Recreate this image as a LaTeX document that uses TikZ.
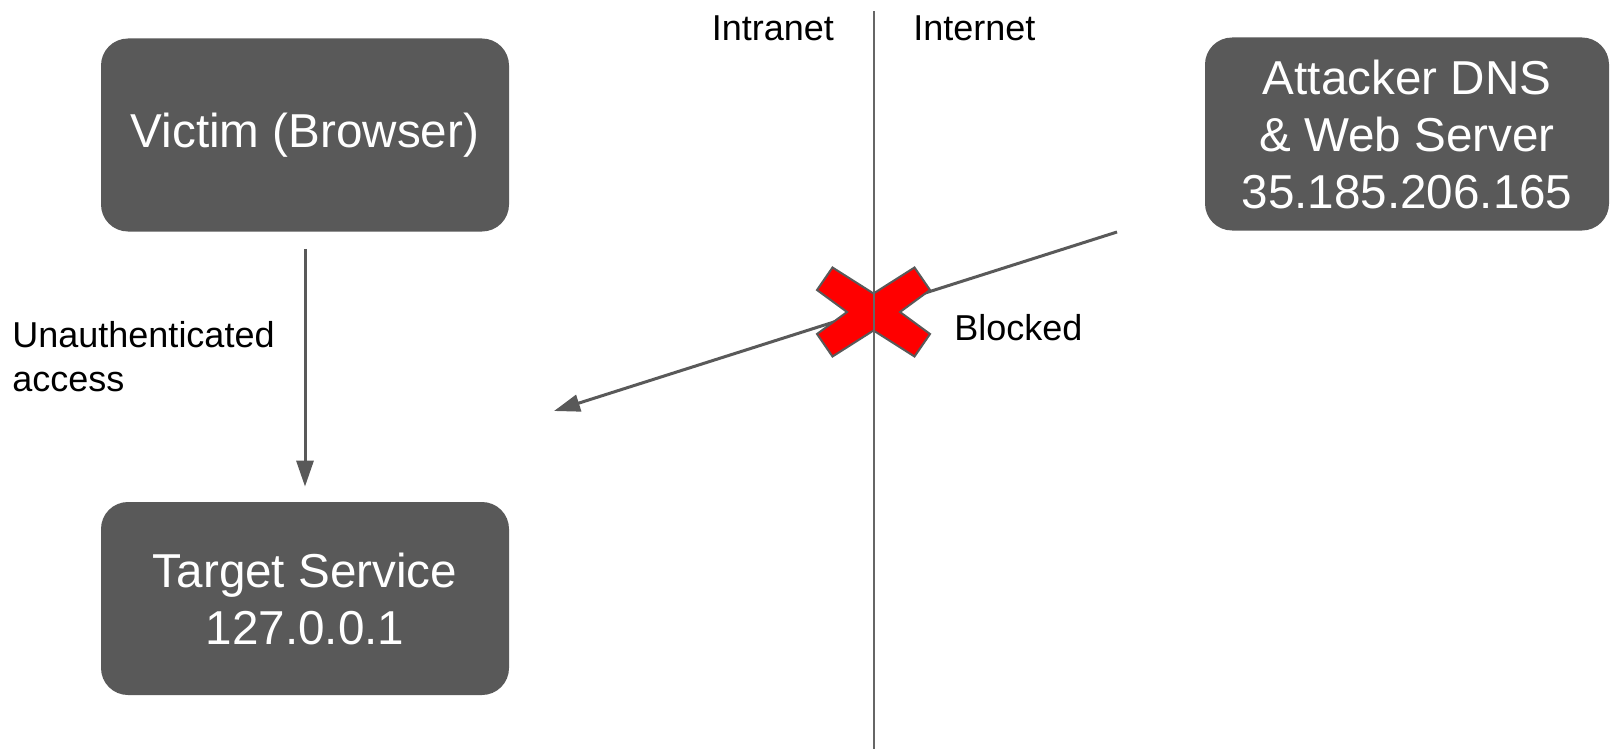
\documentclass[tikz,border=0pt]{standalone}
\usepackage{fontspec}
\setmainfont{Liberation Sans}
\usetikzlibrary{arrows.meta}
\definecolor{boxgray}{HTML}{595959}
\definecolor{linegray}{HTML}{666666}
\definecolor{xred}{HTML}{FF0000}
\begin{document}
\begin{tikzpicture}[x=0.5pt,y=-0.5pt,
  server/.style={fill=boxgray, rounded corners=13.5pt, text=white, align=center,
    font=\fontsize{23.8}{28.5}\selectfont, inner sep=0pt,
    minimum width=204pt, minimum height=96.5pt},
  label/.style={font=\fontsize{18}{22}\selectfont, inner sep=0pt, text=black},
  flow/.style={draw=boxgray, line width=1.5pt, -{Triangle[length=13pt,width=8.5pt]}},
  divider/.style={draw=linegray, line width=1pt}]
\useasboundingbox (0,0) rectangle (1610,749);
\fill[white] (0,0) rectangle (1610,749);

% servers
\node[server] (victim) at (305,135) {Victim (Browser)};
\node[server] (target) at (305,598.5) {Target Service\\127.0.0.1};
\node[server, minimum width=202pt] (attacker) at (1407,134) {Attacker DNS\\\& Web Server\\35.185.206.165};

% labels
\node[label, anchor=base west] (intranet) at (711.5,40.5) {Intranet};
\node[label, anchor=base west] (internet) at (913,40.5) {Internet};
\node[label, anchor=base west] (blocked) at (954,340) {Blocked};
\node[label, anchor=base west, align=left] (unauth) at (12,391) {Unauthenticated\\access};

% local request
\draw[flow, shorten <=8.5pt, shorten >=7.5pt] (victim.south) -- (target.north);

% rebinding attempt from outside
\coordinate (dstart) at (1117,232);
\coordinate (dend) at (554,411);
\draw[flow] (dstart) -- (dend);

% blocked mark
\begin{scope}[shift={(873.5,312)}]
  \draw[fill=xred, draw=boxgray, line width=1pt, line join=miter]
    (26.5,0) -- (56.5,22) -- (41,44.5) -- (0,18.5) -- (-41,44.5) -- (-56.5,22)
    -- (-26.5,0) -- (-56.5,-22) -- (-41,-44.5) -- (0,-18.5) -- (41,-44.5)
    -- (56.5,-22) -- cycle;
\end{scope}

% intranet / internet boundary
\coordinate (divtop) at (874,11.5);
\coordinate (divbot) at (874,749);
\draw[divider] (divtop) -- (divbot);
\end{tikzpicture}
\end{document}
